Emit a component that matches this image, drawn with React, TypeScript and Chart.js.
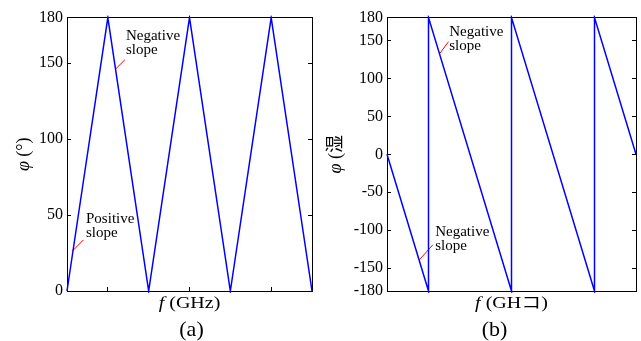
import React, { useEffect, useRef } from "react";
import { Chart, registerables } from "chart.js";

Chart.register(...registerables);

const FONT = '"Liberation Serif", "Times New Roman", "Noto Sans CJK SC", serif';

// ---------- Panel (a): triangular phase response ----------
const freqA = [0, 0.5, 1, 1.5, 2, 2.5, 3];
const phaseA = [0, 180, 0, 180, 0, 180, 0];
const yTicksA = [0, 50, 100, 150, 180];

// ---------- Panel (b): wrapped (saw-tooth) phase response ----------
const freqB = [0, 0.5, 0.5, 1.5, 1.5, 2.5, 2.5, 3];
const phaseB = [0, -180, 180, -180, 180, -180, 180, 0];
const yTicksB = [-180, -150, -100, -50, 0, 50, 100, 150, 180];

// shared unlabeled frequency ticks
const xTicks = [0.5, 1.5, 2.5];

// annotation pointers (data coordinates)
const ptrA1x = [0.588, 0.71];
const ptrA1y = [145.8, 152.3];
const ptrA2x = [0.065, 0.2];
const ptrA2y = [26.2, 33.6];
const ptrB1x = [0.641, 0.741];
const ptrB1y = [133.4, 148.3];
const ptrB2x = [0.392, 0.553];
const ptrB2y = [-138.7, -119.1];

// annotation texts (anchor in data coordinates)
const notesA = [
  { x: 0.722, y: 165.1, lines: ["Negative", "slope"] },
  { x: 0.233, y: 44.8, lines: ["Positive", "slope"] },
];
const notesB = [
  { x: 0.75, y: 155.2, lines: ["Negative", "slope"] },
  { x: 0.581, y: -107.6, lines: ["Negative", "slope"] },
];

type Seg = { text: string; italic?: boolean };

const xTitleA: Seg[] = [{ text: "f", italic: true }, { text: " (GHz)" }];
const yTitleA: Seg[] = [{ text: "φ", italic: true }, { text: " (°)" }];
const xTitleB: Seg[] = [{ text: "f", italic: true }, { text: " (GHコ)" }];
const yTitleB: Seg[] = [{ text: "φ", italic: true }, { text: " (湿" }];

function drawRich(ctx: CanvasRenderingContext2D, segs: Seg[], size: number, cx: number, cy: number, rotate: boolean, sx = 1) {
  ctx.save();
  ctx.translate(cx, cy);
  if (rotate) ctx.rotate(-Math.PI / 2);
  ctx.scale(sx, 1);
  ctx.fillStyle = "#000";
  ctx.textBaseline = "middle";
  ctx.textAlign = "left";
  const fonts = segs.map((s) => `${s.italic ? "italic " : ""}${size}px ${FONT}`);
  const widths = segs.map((s, i) => {
    ctx.font = fonts[i];
    return ctx.measureText(s.text).width;
  });
  const total = widths.reduce((a, b) => a + b, 0);
  let x = -total / 2;
  segs.forEach((s, i) => {
    ctx.font = fonts[i];
    ctx.fillText(s.text, x, 0);
    x += widths[i];
  });
  ctx.restore();
}

type PanelDef = {
  freq: number[];
  phase: number[];
  yMin: number;
  yMax: number;
  yTicks: number[];
  pointers: { x: number[]; y: number[] }[];
  notes: { x: number; y: number; lines: string[] }[];
  xTitle: Seg[];
  yTitle: Seg[];
  yTitleOffset: number;
  label: string;
  labelDx: number;
  axisWidth: number;
  padding: { left: number; right: number; top: number; bottom: number };
};

const panelA: PanelDef = {
  freq: freqA,
  phase: phaseA,
  yMin: 0,
  yMax: 180,
  yTicks: yTicksA,
  pointers: [
    { x: ptrA1x, y: ptrA1y },
    { x: ptrA2x, y: ptrA2y },
  ],
  notes: notesA,
  xTitle: xTitleA,
  yTitle: yTitleA,
  yTitleOffset: 43,
  label: "(a)",
  labelDx: 2,
  axisWidth: 67,
  padding: { left: 0, right: 8, top: 14, bottom: 50 },
};

const panelB: PanelDef = {
  freq: freqB,
  phase: phaseB,
  yMin: -180,
  yMax: 180,
  yTicks: yTicksB,
  pointers: [
    { x: ptrB1x, y: ptrB1y },
    { x: ptrB2x, y: ptrB2y },
  ],
  notes: notesB,
  xTitle: xTitleB,
  yTitle: yTitleB,
  yTitleOffset: 51,
  label: "(b)",
  labelDx: -17,
  axisWidth: 67,
  padding: { left: 0, right: 5, top: 15, bottom: 50 },
};

function buildConfig(p: PanelDef): any {
  const setTicks = (vals: number[]) => (scale: any) => {
    scale.ticks = vals.map((v) => ({ value: v }));
  };
  const zeroSize = (s: any) => {
    if (s.isHorizontal()) s.height = 0;
    else s.width = 0;
  };
  const grid = { drawOnChartArea: false, color: "#000", tickLength: -4, tickWidth: 1 };
  const border = { display: true, color: "#000", width: 1 };
  const xAxis = (position: string) => ({
    type: "linear",
    position,
    min: 0,
    max: 3,
    grid,
    border,
    ticks: { display: false },
    afterBuildTicks: setTicks(xTicks),
    afterFit: zeroSize,
  });
  const yAxis = (position: string, labels: boolean) => ({
    type: "linear",
    position,
    min: p.yMin,
    max: p.yMax,
    grid,
    border,
    ticks: {
      display: labels,
      autoSkip: false,
      padding: 8,
      color: "#000",
      font: { family: FONT, size: 16 },
      callback: (v: number) => String(v),
    },
    afterBuildTicks: setTicks(p.yTicks),
    afterFit: labels
      ? (s: any) => {
          s.width = p.axisWidth;
        }
      : zeroSize,
  });

  const textPlugin = {
    id: "panelText",
    afterDraw(chart: any) {
      const { ctx, chartArea: a, scales } = chart;
      ctx.save();
      ctx.fillStyle = "#000";
      ctx.textAlign = "left";
      ctx.textBaseline = "alphabetic";
      ctx.font = `15px ${FONT}`;
      for (const n of p.notes) {
        const px = scales.x.getPixelForValue(n.x);
        const py = scales.y.getPixelForValue(n.y);
        n.lines.forEach((t, i) => ctx.fillText(t, px, py + i * 14));
      }
      ctx.restore();
      const cx = (a.left + a.right) / 2;
      drawRich(ctx, p.xTitle, 16, cx, a.bottom + 13, false, 1.25);
      drawRich(ctx, p.yTitle, 18, a.left - p.yTitleOffset, (a.top + a.bottom) / 2, true);
      ctx.save();
      ctx.fillStyle = "#000";
      ctx.font = `22px ${FONT}`;
      ctx.textAlign = "center";
      ctx.textBaseline = "middle";
      ctx.fillText(p.label, cx + p.labelDx, a.bottom + 39);
      ctx.restore();
    },
  };

  const datasets: any[] = [
    {
      data: p.freq.map((f, i) => ({ x: f, y: p.phase[i] })),
      borderColor: "#0000ff",
      borderWidth: 1.5,
      pointRadius: 0,
      tension: 0,
      fill: false,
      clip: 2,
    },
    ...p.pointers.map((ptr) => ({
      data: ptr.x.map((f, i) => ({ x: f, y: ptr.y[i] })),
      borderColor: "#ff0000",
      borderWidth: 1,
      pointRadius: 0,
      fill: false,
    })),
  ];

  return {
    type: "line",
    data: { datasets },
    options: {
      animation: false,
      responsive: false,
      devicePixelRatio: 1,
      layout: { padding: p.padding },
      plugins: { legend: { display: false }, tooltip: { enabled: false }, title: { display: false } },
      scales: {
        x: xAxis("bottom"),
        x2: xAxis("top"),
        y: yAxis("left", true),
        y2: yAxis("right", false),
      },
    },
    plugins: [textPlugin],
  };
}

function Panel({ def, left, width }: { def: PanelDef; left: number; width: number }) {
  const ref = useRef<HTMLCanvasElement>(null);
  useEffect(() => {
    const chart = new Chart(ref.current as HTMLCanvasElement, buildConfig(def));
    return () => chart.destroy();
  }, [def]);
  return (
    <canvas
      ref={ref}
      width={width}
      height={341}
      style={{ position: "absolute", left, top: 0, width, height: 341 }}
    />
  );
}

export default function App() {
  return (
    <div style={{ position: "fixed", left: 0, top: 0, width: 641, height: 341, background: "#fff", overflow: "hidden" }}>
      <Panel def={panelA} left={0} width={320} />
      <Panel def={panelB} left={320} width={321} />
    </div>
  );
}
